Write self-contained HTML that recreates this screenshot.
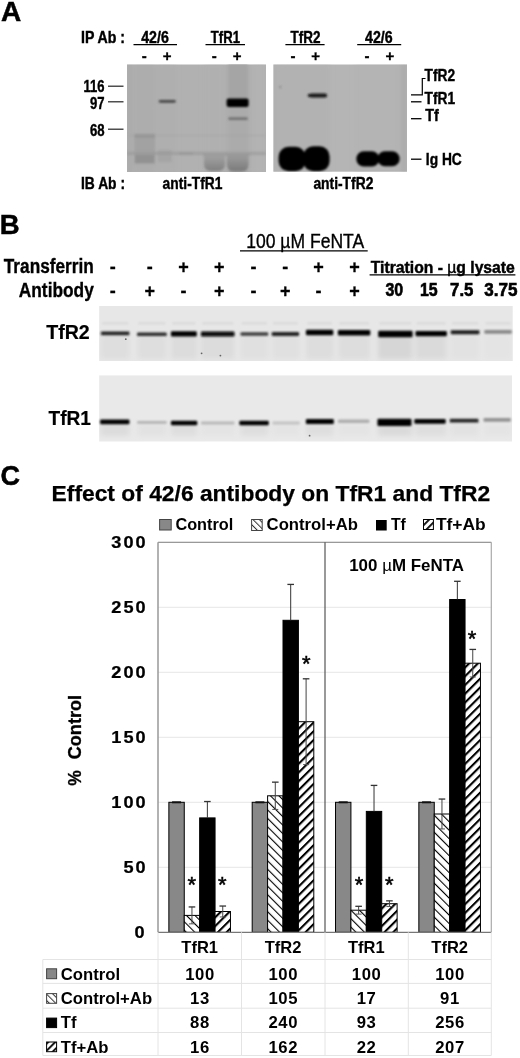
<!DOCTYPE html>
<html><head><meta charset="utf-8"><style>
html,body{margin:0;padding:0;background:#fff;}
body{width:520px;height:1058px;overflow:hidden;}
svg{display:block;font-family:"Liberation Sans", sans-serif;font-weight:bold;will-change:transform;}
</style></head><body>
<svg width="520" height="1058" viewBox="0 0 520 1058">
<rect width="520" height="1058" fill="#fff"/>
<defs>
<filter id="b05" x="-20%" y="-20%" width="140%" height="140%"><feGaussianBlur stdDeviation="0.5"/></filter>
<filter id="b1" x="-50%" y="-50%" width="200%" height="200%"><feGaussianBlur stdDeviation="1.1"/></filter>
<filter id="b2" x="-50%" y="-50%" width="200%" height="200%"><feGaussianBlur stdDeviation="2.5"/></filter>
<filter id="b4" x="-50%" y="-50%" width="200%" height="200%"><feGaussianBlur stdDeviation="4"/></filter>
<filter id="b3" x="-50%" y="-50%" width="200%" height="200%"><feGaussianBlur stdDeviation="0.9"/></filter>
<filter id="bv" x="-50%" y="-50%" width="200%" height="200%"><feGaussianBlur stdDeviation="1.5 4"/></filter>
<linearGradient id="gb1" x1="0" y1="0" x2="0" y2="1"><stop offset="0" stop-color="#a6a6a6"/><stop offset="1" stop-color="#808080"/></linearGradient>
<linearGradient id="gb2" x1="0" y1="0" x2="0" y2="1"><stop offset="0" stop-color="#a2a2a2"/><stop offset="1" stop-color="#7a7a7a"/></linearGradient>
<clipPath id="g1c"><rect x="127" y="64.5" width="139" height="107.5"/></clipPath>
<clipPath id="g2c"><rect x="273.4" y="64.5" width="133.6" height="107.2"/></clipPath>
<clipPath id="bl2"><rect x="99.2" y="306" width="413.5" height="55"/></clipPath>
<clipPath id="bl1"><rect x="99.2" y="375.4" width="412.8" height="66.1"/></clipPath>
<pattern id="hC" patternUnits="userSpaceOnUse" width="6" height="6" patternTransform="rotate(-45)"><rect width="6" height="6" fill="#fff"/><rect x="0" y="0" width="1.1" height="6" fill="#000"/></pattern>
<pattern id="hT" patternUnits="userSpaceOnUse" width="6.2" height="6.2" patternTransform="rotate(45)"><rect width="6.2" height="6.2" fill="#fff"/><rect x="0" y="0" width="2.1" height="6.2" fill="#000"/></pattern>
<pattern id="lC" patternUnits="userSpaceOnUse" width="4.5" height="4.5" patternTransform="rotate(-45)"><rect width="4.5" height="4.5" fill="#fff"/><rect x="0" y="0" width="1" height="4.5" fill="#333"/></pattern>
<pattern id="lT" patternUnits="userSpaceOnUse" width="5" height="5" patternTransform="rotate(45)"><rect width="5" height="5" fill="#fff"/><rect x="0" y="0" width="1.8" height="5" fill="#000"/></pattern>
</defs>
<text x="1" y="21" font-size="28" fill="#000" stroke="#000" stroke-width="0.5">A</text>
<text x="81" y="42.7" font-size="16.5" textLength="44" lengthAdjust="spacingAndGlyphs" fill="#000" stroke="#000" stroke-width="0.42">IP Ab :</text>
<text x="141.2" y="42.7" font-size="16.5" textLength="27.6" lengthAdjust="spacingAndGlyphs" fill="#000" stroke="#000" stroke-width="0.42">42/6</text>
<line x1="133.5" y1="44.6" x2="177" y2="44.6" stroke="#000" stroke-width="1.3"/>
<text x="210.8" y="42.7" font-size="16.5" textLength="29.2" lengthAdjust="spacingAndGlyphs" fill="#000" stroke="#000" stroke-width="0.42">TfR1</text>
<line x1="205.5" y1="44.6" x2="245" y2="44.6" stroke="#000" stroke-width="1.3"/>
<text x="290.4" y="42.7" font-size="16.5" textLength="30" lengthAdjust="spacingAndGlyphs" fill="#000" stroke="#000" stroke-width="0.42">TfR2</text>
<line x1="285.4" y1="44.6" x2="324.6" y2="44.6" stroke="#000" stroke-width="1.3"/>
<text x="365" y="42.7" font-size="16.5" textLength="27.6" lengthAdjust="spacingAndGlyphs" fill="#000" stroke="#000" stroke-width="0.42">42/6</text>
<line x1="357.2" y1="44.6" x2="401.2" y2="44.6" stroke="#000" stroke-width="1.3"/>
<text x="144.2" y="60.5" font-size="15" text-anchor="middle" fill="#000" stroke="#000" stroke-width="0.3">-</text>
<text x="167.1" y="60.5" font-size="15" text-anchor="middle" fill="#000" stroke="#000" stroke-width="0.3">+</text>
<text x="214.3" y="60.5" font-size="15" text-anchor="middle" fill="#000" stroke="#000" stroke-width="0.3">-</text>
<text x="237.2" y="60.5" font-size="15" text-anchor="middle" fill="#000" stroke="#000" stroke-width="0.3">+</text>
<text x="293" y="60.5" font-size="15" text-anchor="middle" fill="#000" stroke="#000" stroke-width="0.3">-</text>
<text x="315.7" y="60.5" font-size="15" text-anchor="middle" fill="#000" stroke="#000" stroke-width="0.3">+</text>
<text x="367" y="60.5" font-size="15" text-anchor="middle" fill="#000" stroke="#000" stroke-width="0.3">-</text>
<text x="389.8" y="60.5" font-size="15" text-anchor="middle" fill="#000" stroke="#000" stroke-width="0.3">+</text>
<text x="104.6" y="91.6" font-size="16.5" text-anchor="end" textLength="21" lengthAdjust="spacingAndGlyphs" fill="#000" stroke="#000" stroke-width="0.42">116</text>
<line x1="108" y1="86.2" x2="123.5" y2="86.2" stroke="#222" stroke-width="1.2"/>
<text x="104.6" y="109.3" font-size="16.5" text-anchor="end" textLength="14.6" lengthAdjust="spacingAndGlyphs" fill="#000" stroke="#000" stroke-width="0.42">97</text>
<line x1="108" y1="101.8" x2="123.5" y2="101.8" stroke="#222" stroke-width="1.2"/>
<text x="104.6" y="135.5" font-size="16.5" text-anchor="end" textLength="14.6" lengthAdjust="spacingAndGlyphs" fill="#000" stroke="#000" stroke-width="0.42">68</text>
<line x1="108" y1="129.2" x2="123.5" y2="129.2" stroke="#222" stroke-width="1.2"/>
<rect x="127.00" y="64.50" width="139.00" height="107.50" fill="#b1b1b1"/>
<g clip-path="url(#g1c)">
<g filter="url(#b2)">
<rect x="127.00" y="62.00" width="5.00" height="112.00" fill="#a5a5a5" opacity="0.7"/>
<rect x="134.00" y="62.00" width="21.00" height="112.00" fill="#aaaaaa" opacity="0.5"/>
<rect x="157.00" y="62.00" width="19.00" height="112.00" fill="#acacac" opacity="0.4"/>
<rect x="204.00" y="62.00" width="21.00" height="112.00" fill="#aeaeae" opacity="0.4"/>
<rect x="227.00" y="62.00" width="22.00" height="112.00" fill="#a6a6a6" opacity="0.6"/>
<rect x="252.00" y="62.00" width="14.00" height="112.00" fill="#b6b6b6" opacity="0.5"/>
</g>
<g filter="url(#b1)">
<rect x="134.50" y="134.00" width="20.50" height="30.00" fill="#9b9b9b" opacity="0.6"/>
<rect x="134.50" y="134.00" width="20.50" height="3.50" fill="#8c8c8c" opacity="0.7"/>
<rect x="228.50" y="64.00" width="19.00" height="34.00" fill="#a0a0a0" opacity="0.55"/>
<rect x="135.00" y="155.00" width="19.50" height="8.00" fill="#878787" opacity="0.6"/>
<rect x="158.00" y="150.00" width="13.50" height="12.00" fill="#9b9b9b" opacity="0.5"/>
<rect x="127.00" y="151.80" width="139.00" height="3.20" fill="#969696" opacity="0.6"/>
<rect x="179.00" y="152.00" width="14.00" height="3.00" fill="#969696" opacity="0.6"/>
<rect x="127.00" y="134.50" width="139.00" height="2.00" fill="#a5a5a5" opacity="0.4"/>
<path d="M204,154 H225 V164 Q225,171 218,171 H211 Q204,171 204,164 Z" fill="url(#gb1)"/>
<path d="M227,153 H248.5 V164 Q248.5,171.5 241.5,171.5 H234 Q227,171.5 227,164 Z" fill="url(#gb2)"/>
<rect x="203.00" y="153.50" width="47.00" height="2.60" fill="#969696" opacity="0.6"/>
</g>
<g filter="url(#b1)">
<rect x="158.8" y="99.9" width="17" height="2.8" rx="1.4" fill="#464646"/>
<rect x="226.6" y="98.6" width="22" height="8.3" rx="2" fill="#000"/>
<rect x="228.3" y="117.4" width="19.5" height="2.4" rx="1" fill="#696969"/>
</g>
</g>
<rect x="273.40" y="64.50" width="133.60" height="107.20" fill="#b5b5b5"/>
<g clip-path="url(#g2c)">
<g filter="url(#b2)">
<rect x="273.00" y="62.00" width="4.00" height="112.00" fill="#aaaaaa" opacity="0.6"/>
<rect x="278.00" y="62.00" width="26.00" height="112.00" fill="#b0b0b0" opacity="0.5"/>
<rect x="304.00" y="62.00" width="26.00" height="112.00" fill="#afafaf" opacity="0.5"/>
<rect x="355.00" y="62.00" width="23.00" height="112.00" fill="#b2b2b2" opacity="0.4"/>
<rect x="378.00" y="62.00" width="22.00" height="112.00" fill="#b2b2b2" opacity="0.4"/>
<rect x="401.00" y="62.00" width="7.00" height="112.00" fill="#a8a8a8" opacity="0.7"/>
</g>
<g filter="url(#b1)">
<path d="M307.5,95.5 Q308,93.6 312,93.6 H325 Q327.2,93.6 327.2,95.5 Q327.2,97.4 325,97.4 H312 Q308,97.4 307.5,95.5 Z" fill="#191919"/>
<circle cx="280.3" cy="87" r="0.8" fill="#5a5a5a"/>
<rect x="278.6" y="146.8" width="27" height="24.5" rx="10" fill="#000"/>
<rect x="303.2" y="146.2" width="26.4" height="25" rx="10" fill="#000"/>
<rect x="356.3" y="151.2" width="23" height="15.2" rx="7.5" fill="#000"/>
<rect x="377.4" y="151.2" width="22.3" height="15" rx="7.5" fill="#000"/>
</g>
</g>
<text x="424.6" y="80.9" font-size="16.5" textLength="30.5" lengthAdjust="spacingAndGlyphs" fill="#000" stroke="#000" stroke-width="0.42">TfR2</text>
<text x="424.6" y="104.1" font-size="16.5" textLength="30.5" lengthAdjust="spacingAndGlyphs" fill="#000" stroke="#000" stroke-width="0.42">TfR1</text>
<text x="425.2" y="121" font-size="16.5" textLength="13.6" lengthAdjust="spacingAndGlyphs" fill="#000" stroke="#000" stroke-width="0.42">Tf</text>
<text x="425.8" y="164.6" font-size="16.5" textLength="36" lengthAdjust="spacingAndGlyphs" fill="#000" stroke="#000" stroke-width="0.42">Ig HC</text>
<polyline points="425.5,78.5 422.3,78.5 422.3,94.8 411,94.8" fill="none" stroke="#000" stroke-width="1.2"/>
<line x1="411" y1="101.8" x2="421.5" y2="101.8" stroke="#000" stroke-width="1.3"/>
<line x1="411" y1="118.7" x2="421.5" y2="118.7" stroke="#000" stroke-width="1.3"/>
<line x1="411" y1="159.2" x2="421.5" y2="159.2" stroke="#000" stroke-width="1.3"/>
<text x="81" y="188.8" font-size="16.5" textLength="44" lengthAdjust="spacingAndGlyphs" fill="#000" stroke="#000" stroke-width="0.42">IB Ab :</text>
<text x="162.6" y="188.8" font-size="16.5" textLength="59.8" lengthAdjust="spacingAndGlyphs" fill="#000" stroke="#000" stroke-width="0.42">anti-TfR1</text>
<text x="313.4" y="189" font-size="16.5" textLength="60" lengthAdjust="spacingAndGlyphs" fill="#000" stroke="#000" stroke-width="0.42">anti-TfR2</text>
<text x="-0.2" y="233.7" font-size="27.5" fill="#000" stroke="#000" stroke-width="0.5">B</text>
<text x="246.2" y="248.4" font-size="20" font-weight="normal" textLength="118" lengthAdjust="spacingAndGlyphs" fill="#000" stroke="#000" stroke-width="0.35">100 µM FeNTA</text>
<line x1="240" y1="250.9" x2="367.7" y2="250.9" stroke="#000" stroke-width="1.3"/>
<text x="3.8" y="272.7" font-size="20" textLength="90" lengthAdjust="spacingAndGlyphs" fill="#000" stroke="#000" stroke-width="0.35">Transferrin</text>
<text x="18.8" y="297" font-size="20" textLength="75" lengthAdjust="spacingAndGlyphs" fill="#000" stroke="#000" stroke-width="0.35">Antibody</text>
<text x="112.8" y="272.5" font-size="18" text-anchor="middle" fill="#000" stroke="#000" stroke-width="0.3">-</text>
<text x="112.8" y="297" font-size="18" text-anchor="middle" fill="#000" stroke="#000" stroke-width="0.3">-</text>
<text x="149.7" y="272.5" font-size="18" text-anchor="middle" fill="#000" stroke="#000" stroke-width="0.3">-</text>
<text x="149.7" y="297" font-size="18" text-anchor="middle" fill="#000" stroke="#000" stroke-width="0.3">+</text>
<text x="183.5" y="272.5" font-size="18" text-anchor="middle" fill="#000" stroke="#000" stroke-width="0.3">+</text>
<text x="183.5" y="297" font-size="18" text-anchor="middle" fill="#000" stroke="#000" stroke-width="0.3">-</text>
<text x="219.3" y="272.5" font-size="18" text-anchor="middle" fill="#000" stroke="#000" stroke-width="0.3">+</text>
<text x="219.3" y="297" font-size="18" text-anchor="middle" fill="#000" stroke="#000" stroke-width="0.3">+</text>
<text x="253.6" y="272.5" font-size="18" text-anchor="middle" fill="#000" stroke="#000" stroke-width="0.3">-</text>
<text x="253.6" y="297" font-size="18" text-anchor="middle" fill="#000" stroke="#000" stroke-width="0.3">-</text>
<text x="285.2" y="272.5" font-size="18" text-anchor="middle" fill="#000" stroke="#000" stroke-width="0.3">-</text>
<text x="285.2" y="297" font-size="18" text-anchor="middle" fill="#000" stroke="#000" stroke-width="0.3">+</text>
<text x="318.4" y="272.5" font-size="18" text-anchor="middle" fill="#000" stroke="#000" stroke-width="0.3">+</text>
<text x="318.4" y="297" font-size="18" text-anchor="middle" fill="#000" stroke="#000" stroke-width="0.3">-</text>
<text x="354.5" y="272.5" font-size="18" text-anchor="middle" fill="#000" stroke="#000" stroke-width="0.3">+</text>
<text x="354.5" y="297" font-size="18" text-anchor="middle" fill="#000" stroke="#000" stroke-width="0.3">+</text>
<text x="370.8" y="272.5" font-size="16" textLength="144" lengthAdjust="spacingAndGlyphs" fill="#000" stroke="#000" stroke-width="0.45">Titration - <tspan font-weight="normal">µ</tspan>g lysate</text>
<line x1="369.6" y1="274.8" x2="515.4" y2="274.8" stroke="#000" stroke-width="1.3"/>
<text x="385.40000000000003" y="296.3" font-size="17.5" textLength="17.7" lengthAdjust="spacingAndGlyphs" fill="#000" stroke="#000" stroke-width="0.6">30</text>
<text x="420.0" y="296.3" font-size="17.5" textLength="17.7" lengthAdjust="spacingAndGlyphs" fill="#000" stroke="#000" stroke-width="0.6">15</text>
<text x="450.1" y="296.3" font-size="17.5" textLength="23.3" lengthAdjust="spacingAndGlyphs" fill="#000" stroke="#000" stroke-width="0.6">7.5</text>
<text x="484.20000000000005" y="296.3" font-size="17.5" textLength="33.2" lengthAdjust="spacingAndGlyphs" fill="#000" stroke="#000" stroke-width="0.6">3.75</text>
<text x="46.2" y="339.4" font-size="19.5" textLength="43.6" lengthAdjust="spacingAndGlyphs" fill="#000" stroke="#000" stroke-width="0.2">TfR2</text>
<text x="48.6" y="424.6" font-size="19.5" textLength="42.4" lengthAdjust="spacingAndGlyphs" fill="#000" stroke="#000" stroke-width="0.2">TfR1</text>
<rect x="99.20" y="306.00" width="413.50" height="55.00" fill="#e7e7e7"/>
<rect x="99.20" y="375.40" width="412.80" height="66.10" fill="#e9e9e9"/>
<g clip-path="url(#bl2)"><g filter="url(#b2)">
<rect x="100.50" y="335.00" width="29.00" height="24.00" fill="#dedede"/>
<rect x="137.50" y="335.00" width="29.00" height="24.00" fill="#dedede"/>
<rect x="171.00" y="335.00" width="26.00" height="24.00" fill="#dcdcdc"/>
<rect x="201.00" y="335.00" width="33.50" height="24.00" fill="#dcdcdc"/>
<rect x="240.50" y="335.00" width="27.80" height="24.00" fill="#e0e0e0"/>
<rect x="272.50" y="335.00" width="27.10" height="24.00" fill="#e0e0e0"/>
<rect x="306.00" y="335.00" width="27.50" height="24.00" fill="#dddddd"/>
<rect x="338.50" y="335.00" width="31.50" height="24.00" fill="#dddddd"/>
<rect x="378.00" y="335.00" width="34.00" height="24.00" fill="#d6d6d6"/>
<rect x="415.50" y="335.00" width="31.00" height="24.00" fill="#dadada"/>
<rect x="450.50" y="335.00" width="28.50" height="24.00" fill="#e2e2e2"/>
<rect x="484.50" y="335.00" width="26.50" height="24.00" fill="#e4e4e4"/>
</g></g>
<g clip-path="url(#bl1)"><g filter="url(#b2)">
<rect x="100.50" y="424.00" width="29.00" height="12.00" fill="#dcdcdc"/>
<rect x="137.50" y="424.00" width="29.00" height="12.00" fill="#e2e2e2"/>
<rect x="171.00" y="424.00" width="26.00" height="12.00" fill="#dedede"/>
<rect x="201.00" y="424.00" width="33.50" height="12.00" fill="#e4e4e4"/>
<rect x="240.50" y="424.00" width="27.80" height="12.00" fill="#dedede"/>
<rect x="272.50" y="424.00" width="27.10" height="12.00" fill="#e4e4e4"/>
<rect x="306.00" y="424.00" width="27.50" height="12.00" fill="#dedede"/>
<rect x="338.50" y="424.00" width="31.50" height="12.00" fill="#e4e4e4"/>
<rect x="378.00" y="424.00" width="34.00" height="12.00" fill="#dadada"/>
<rect x="415.50" y="424.00" width="31.00" height="12.00" fill="#dedede"/>
<rect x="450.50" y="424.00" width="28.50" height="12.00" fill="#e2e2e2"/>
<rect x="484.50" y="424.00" width="26.50" height="12.00" fill="#e4e4e4"/>
</g></g>
<g filter="url(#b3)">
<rect x="100.9" y="331.50" width="28.6" height="3.80" rx="1.2" fill="#222222"/>
<rect x="137.0" y="332.50" width="29.8" height="3.60" rx="1.2" fill="#2f2f2f"/>
<rect x="170.9" y="331.20" width="25.9" height="5.20" rx="1.2" fill="#000000"/>
<rect x="200.9" y="331.60" width="33.6" height="4.80" rx="1.2" fill="#0d0d0d"/>
<rect x="240.5" y="332.30" width="27.8" height="3.40" rx="1.2" fill="#3c3c3c"/>
<rect x="271.7" y="332.10" width="27.4" height="3.80" rx="1.2" fill="#222222"/>
<rect x="305.9" y="329.70" width="27.4" height="5.60" rx="1.2" fill="#000000"/>
<rect x="337.9" y="330.10" width="32.4" height="5.40" rx="1.2" fill="#000000"/>
<rect x="378.2" y="330.70" width="34.4" height="6.60" rx="1.2" fill="#000000"/>
<rect x="415.5" y="331.00" width="31.4" height="5.20" rx="1.2" fill="#000000"/>
<rect x="450.7" y="330.20" width="28.8" height="4.00" rx="1.2" fill="#1e1e1e"/>
<rect x="484.3" y="330.10" width="27.5" height="3.60" rx="1.2" fill="#888888"/>
<rect x="100.1" y="419.50" width="29.4" height="4.80" rx="1.2" fill="#000000"/>
<rect x="137.0" y="421.00" width="29.8" height="2.80" rx="1.2" fill="#b2b2b2"/>
<rect x="170.9" y="420.80" width="26.4" height="4.40" rx="1.2" fill="#000000"/>
<rect x="200.9" y="421.50" width="33.6" height="3.00" rx="1.2" fill="#b8b8b8"/>
<rect x="239.3" y="420.80" width="29.5" height="4.40" rx="1.2" fill="#000000"/>
<rect x="272.4" y="421.50" width="27.5" height="3.00" rx="1.2" fill="#c2c2c2"/>
<rect x="305.9" y="419.10" width="27.9" height="5.00" rx="1.2" fill="#000000"/>
<rect x="337.9" y="419.50" width="31.6" height="3.40" rx="1.2" fill="#adadad"/>
<rect x="377.4" y="418.80" width="34.1" height="7.20" rx="1.2" fill="#000000"/>
<rect x="414.3" y="419.00" width="31.4" height="4.80" rx="1.2" fill="#000000"/>
<rect x="449.7" y="418.80" width="28.8" height="3.80" rx="1.2" fill="#222222"/>
<rect x="483.5" y="418.10" width="27.3" height="3.60" rx="1.2" fill="#939393"/>
<rect x="102.2" y="322.3" width="26.0" height="2" fill="#d7d7d7"/>
<rect x="138.3" y="322.3" width="27.2" height="2" fill="#d7d7d7"/>
<rect x="172.2" y="322.3" width="23.3" height="2" fill="#d7d7d7"/>
<rect x="202.2" y="322.3" width="31.0" height="2" fill="#d7d7d7"/>
<rect x="241.8" y="322.3" width="25.2" height="2" fill="#d7d7d7"/>
<rect x="273.0" y="322.3" width="24.8" height="2" fill="#d7d7d7"/>
<rect x="307.2" y="322.3" width="24.8" height="2" fill="#d7d7d7"/>
<rect x="339.2" y="322.3" width="29.8" height="2" fill="#d7d7d7"/>
<rect x="379.5" y="322.3" width="31.8" height="2" fill="#d7d7d7"/>
<rect x="416.8" y="322.3" width="28.8" height="2" fill="#d7d7d7"/>
<rect x="452.0" y="322.3" width="26.2" height="2" fill="#d7d7d7"/>
<rect x="485.6" y="322.3" width="24.9" height="2" fill="#d7d7d7"/>
</g>
<circle cx="125.8" cy="339.2" r="0.9" fill="#646464"/>
<circle cx="309.6" cy="435.7" r="0.9" fill="#646464"/>
<circle cx="201.6" cy="353.3" r="0.9" fill="#646464"/>
<circle cx="220.4" cy="355.6" r="0.9" fill="#646464"/>
<text x="0.6" y="484.5" font-size="27" fill="#000" stroke="#000" stroke-width="0.5">C</text>
<text x="51.6" y="500.6" font-size="22" textLength="438.5" lengthAdjust="spacingAndGlyphs" fill="#000" stroke="#000" stroke-width="0.25">Effect of 42/6 antibody on TfR1 and TfR2</text>
<rect x="159.60" y="519.50" width="11.60" height="10.50" fill="#888" stroke="#444" stroke-width="1"/>
<text x="175.4" y="530.3" font-size="16.3" textLength="57.8" lengthAdjust="spacingAndGlyphs" fill="#000">Control</text>
<rect x="251.60" y="519.50" width="10.60" height="11.00" fill="url(#lC)" stroke="#444" stroke-width="1"/>
<text x="266.6" y="530.3" font-size="16.3" textLength="91.3" lengthAdjust="spacingAndGlyphs" fill="#000">Control+Ab</text>
<rect x="376.00" y="520.00" width="10.70" height="10.50" fill="#000"/>
<text x="390.9" y="530.3" font-size="16.3" textLength="15" lengthAdjust="spacingAndGlyphs" fill="#000">Tf</text>
<rect x="423.50" y="519.50" width="9.90" height="10.00" fill="url(#lT)" stroke="#000" stroke-width="1"/>
<text x="435.9" y="530.3" font-size="16.3" textLength="49.8" lengthAdjust="spacingAndGlyphs" fill="#000">Tf+Ab</text>
<line x1="158" y1="867.3" x2="491.3" y2="867.3" stroke="#ebebeb" stroke-width="1.2"/>
<line x1="158" y1="802.3" x2="491.3" y2="802.3" stroke="#ebebeb" stroke-width="1.2"/>
<line x1="158" y1="737.3" x2="491.3" y2="737.3" stroke="#ebebeb" stroke-width="1.2"/>
<line x1="158" y1="672.3" x2="491.3" y2="672.3" stroke="#ebebeb" stroke-width="1.2"/>
<line x1="158" y1="607.3" x2="491.3" y2="607.3" stroke="#ebebeb" stroke-width="1.2"/>
<line x1="158" y1="542.3" x2="491.3" y2="542.3" stroke="#ebebeb" stroke-width="1.2"/>
<text transform="translate(134.4,938.2) scale(1.1,1)" font-size="16.5" letter-spacing="1.83" stroke="#000" stroke-width="0.25">0</text>
<text transform="translate(123.4,873.2) scale(1.1,1)" font-size="16.5" letter-spacing="1.83" stroke="#000" stroke-width="0.25">50</text>
<text transform="translate(111.3,808.2) scale(1.1,1)" font-size="16.5" letter-spacing="1.83" stroke="#000" stroke-width="0.25">100</text>
<text transform="translate(111.3,743.2) scale(1.1,1)" font-size="16.5" letter-spacing="1.83" stroke="#000" stroke-width="0.25">150</text>
<text transform="translate(111.3,678.2) scale(1.1,1)" font-size="16.5" letter-spacing="1.83" stroke="#000" stroke-width="0.25">200</text>
<text transform="translate(111.3,613.2) scale(1.1,1)" font-size="16.5" letter-spacing="1.83" stroke="#000" stroke-width="0.25">250</text>
<text transform="translate(111.3,548.2) scale(1.1,1)" font-size="16.5" letter-spacing="1.83" stroke="#000" stroke-width="0.25">300</text>
<line x1="158" y1="542.3" x2="491.3" y2="542.3" stroke="#999" stroke-width="1.2"/>
<line x1="491.3" y1="542.3" x2="491.3" y2="932.3" stroke="#aaa" stroke-width="1.2"/>
<line x1="325" y1="542.3" x2="325" y2="932.3" stroke="#555" stroke-width="1.2"/>
<rect x="168.86" y="802.30" width="15.40" height="130.00" fill="#888" stroke="#000" stroke-width="1"/>
<rect x="184.26" y="915.40" width="15.40" height="16.90" fill="url(#hC)" stroke="#000" stroke-width="1"/>
<rect x="199.66" y="817.90" width="15.40" height="114.40" fill="#000" stroke="#000" stroke-width="1"/>
<rect x="215.06" y="911.50" width="15.40" height="20.80" fill="url(#hT)" stroke="#000" stroke-width="1"/>
<line x1="172.06499999999997" y1="802.3" x2="181.06499999999997" y2="802.3" stroke="#111" stroke-width="2"/>
<line x1="191.96499999999997" y1="906.9499999999999" x2="191.96499999999997" y2="923.8499999999999" stroke="#444" stroke-width="1"/>
<line x1="188.96499999999997" y1="923.8499999999999" x2="194.96499999999997" y2="923.8499999999999" stroke="#555" stroke-width="1"/>
<line x1="188.66499999999996" y1="906.9499999999999" x2="195.265" y2="906.9499999999999" stroke="#333" stroke-width="1.3"/>
<line x1="207.36499999999998" y1="801.52" x2="207.36499999999998" y2="817.9" stroke="#333" stroke-width="1"/>
<line x1="204.06499999999997" y1="801.52" x2="210.665" y2="801.52" stroke="#333" stroke-width="1.3"/>
<line x1="222.765" y1="906.04" x2="222.765" y2="916.9599999999999" stroke="#444" stroke-width="1"/>
<line x1="219.765" y1="916.9599999999999" x2="225.765" y2="916.9599999999999" stroke="#555" stroke-width="1"/>
<line x1="219.46499999999997" y1="906.04" x2="226.065" y2="906.04" stroke="#333" stroke-width="1.3"/>
<rect x="252.19" y="802.30" width="15.40" height="130.00" fill="#888" stroke="#000" stroke-width="1"/>
<rect x="267.59" y="795.80" width="15.40" height="136.50" fill="url(#hC)" stroke="#000" stroke-width="1"/>
<rect x="283.00" y="620.30" width="15.40" height="312.00" fill="#000" stroke="#000" stroke-width="1"/>
<rect x="298.39" y="721.70" width="15.40" height="210.60" fill="url(#hT)" stroke="#000" stroke-width="1"/>
<line x1="255.39499999999998" y1="802.3" x2="264.395" y2="802.3" stroke="#111" stroke-width="2"/>
<line x1="275.29499999999996" y1="782.15" x2="275.29499999999996" y2="809.4499999999999" stroke="#444" stroke-width="1"/>
<line x1="272.29499999999996" y1="809.4499999999999" x2="278.29499999999996" y2="809.4499999999999" stroke="#555" stroke-width="1"/>
<line x1="271.99499999999995" y1="782.15" x2="278.59499999999997" y2="782.15" stroke="#333" stroke-width="1.3"/>
<line x1="290.695" y1="584.4199999999998" x2="290.695" y2="620.3" stroke="#333" stroke-width="1"/>
<line x1="287.395" y1="584.4199999999998" x2="293.995" y2="584.4199999999998" stroke="#333" stroke-width="1.3"/>
<line x1="306.09499999999997" y1="678.8" x2="306.09499999999997" y2="764.5999999999999" stroke="#444" stroke-width="1"/>
<line x1="303.09499999999997" y1="764.5999999999999" x2="309.09499999999997" y2="764.5999999999999" stroke="#555" stroke-width="1"/>
<line x1="302.79499999999996" y1="678.8" x2="309.395" y2="678.8" stroke="#333" stroke-width="1.3"/>
<rect x="335.52" y="802.30" width="15.40" height="130.00" fill="#888" stroke="#000" stroke-width="1"/>
<rect x="350.92" y="910.20" width="15.40" height="22.10" fill="url(#hC)" stroke="#000" stroke-width="1"/>
<rect x="366.32" y="811.40" width="15.40" height="120.90" fill="#000" stroke="#000" stroke-width="1"/>
<rect x="381.72" y="903.70" width="15.40" height="28.60" fill="url(#hT)" stroke="#000" stroke-width="1"/>
<line x1="338.72499999999997" y1="802.3" x2="347.72499999999997" y2="802.3" stroke="#111" stroke-width="2"/>
<line x1="358.62499999999994" y1="906.3" x2="358.62499999999994" y2="914.0999999999999" stroke="#444" stroke-width="1"/>
<line x1="355.62499999999994" y1="914.0999999999999" x2="361.62499999999994" y2="914.0999999999999" stroke="#555" stroke-width="1"/>
<line x1="355.32499999999993" y1="906.3" x2="361.92499999999995" y2="906.3" stroke="#333" stroke-width="1.3"/>
<line x1="374.025" y1="785.4" x2="374.025" y2="811.4" stroke="#333" stroke-width="1"/>
<line x1="370.72499999999997" y1="785.4" x2="377.325" y2="785.4" stroke="#333" stroke-width="1.3"/>
<line x1="389.42499999999995" y1="900.8399999999999" x2="389.42499999999995" y2="906.56" stroke="#444" stroke-width="1"/>
<line x1="386.42499999999995" y1="906.56" x2="392.42499999999995" y2="906.56" stroke="#555" stroke-width="1"/>
<line x1="386.12499999999994" y1="900.8399999999999" x2="392.72499999999997" y2="900.8399999999999" stroke="#333" stroke-width="1.3"/>
<rect x="418.85" y="802.30" width="15.40" height="130.00" fill="#888" stroke="#000" stroke-width="1"/>
<rect x="434.25" y="814.00" width="15.40" height="118.30" fill="url(#hC)" stroke="#000" stroke-width="1"/>
<rect x="449.65" y="599.50" width="15.40" height="332.80" fill="#000" stroke="#000" stroke-width="1"/>
<rect x="465.05" y="663.20" width="15.40" height="269.10" fill="url(#hT)" stroke="#000" stroke-width="1"/>
<line x1="422.05499999999995" y1="802.3" x2="431.05499999999995" y2="802.3" stroke="#111" stroke-width="2"/>
<line x1="441.9549999999999" y1="799.05" x2="441.9549999999999" y2="828.9499999999999" stroke="#444" stroke-width="1"/>
<line x1="438.9549999999999" y1="828.9499999999999" x2="444.9549999999999" y2="828.9499999999999" stroke="#555" stroke-width="1"/>
<line x1="438.6549999999999" y1="799.05" x2="445.25499999999994" y2="799.05" stroke="#333" stroke-width="1.3"/>
<line x1="457.35499999999996" y1="581.3" x2="457.35499999999996" y2="599.5" stroke="#333" stroke-width="1"/>
<line x1="454.05499999999995" y1="581.3" x2="460.655" y2="581.3" stroke="#333" stroke-width="1.3"/>
<line x1="472.75499999999994" y1="649.42" x2="472.75499999999994" y2="676.9799999999999" stroke="#444" stroke-width="1"/>
<line x1="469.75499999999994" y1="676.9799999999999" x2="475.75499999999994" y2="676.9799999999999" stroke="#555" stroke-width="1"/>
<line x1="469.4549999999999" y1="649.42" x2="476.05499999999995" y2="649.42" stroke="#333" stroke-width="1.3"/>
<line x1="158" y1="542.3" x2="158" y2="932.3" stroke="#999" stroke-width="1.5"/>
<line x1="158" y1="932.3" x2="491.3" y2="932.3" stroke="#777" stroke-width="1.2"/>
<text x="191.8" y="891.8" font-size="22" font-weight="normal" text-anchor="middle" fill="#000" stroke="#000" stroke-width="0.5">*</text>
<text x="222.3" y="891.8" font-size="22" font-weight="normal" text-anchor="middle" fill="#000" stroke="#000" stroke-width="0.5">*</text>
<text x="306.3" y="671.0" font-size="22" font-weight="normal" text-anchor="middle" fill="#000" stroke="#000" stroke-width="0.5">*</text>
<text x="359" y="891.8" font-size="22" font-weight="normal" text-anchor="middle" fill="#000" stroke="#000" stroke-width="0.5">*</text>
<text x="389.2" y="891.8" font-size="22" font-weight="normal" text-anchor="middle" fill="#000" stroke="#000" stroke-width="0.5">*</text>
<text x="472.1" y="646.3" font-size="22" font-weight="normal" text-anchor="middle" fill="#000" stroke="#000" stroke-width="0.5">*</text>
<text x="349.2" y="570.9" font-size="16.5" textLength="114.8" lengthAdjust="spacingAndGlyphs" fill="#000">100 <tspan font-weight="normal">µ</tspan>M FeNTA</text>
<text transform="translate(80.5,759.2) rotate(-90)" font-size="17.5" textLength="64.2" lengthAdjust="spacingAndGlyphs" stroke="#000" stroke-width="0.3">Control</text>
<text transform="translate(80.5,785.8) rotate(-90)" font-size="17.5" stroke="#000" stroke-width="0.3">%</text>
<line x1="158" y1="932.3" x2="158" y2="1055.5" stroke="#e4e4e4" stroke-width="1"/>
<line x1="241.5" y1="932.3" x2="241.5" y2="1055.5" stroke="#e4e4e4" stroke-width="1"/>
<line x1="325" y1="932.3" x2="325" y2="1055.5" stroke="#e4e4e4" stroke-width="1"/>
<line x1="408.3" y1="932.3" x2="408.3" y2="1055.5" stroke="#e4e4e4" stroke-width="1"/>
<line x1="491.3" y1="932.3" x2="491.3" y2="1055.5" stroke="#e4e4e4" stroke-width="1"/>
<line x1="42.8" y1="959.5" x2="42.8" y2="1055.5" stroke="#e4e4e4" stroke-width="1"/>
<line x1="42.8" y1="959.5" x2="491.3" y2="959.5" stroke="#e4e4e4" stroke-width="1"/>
<line x1="42.8" y1="983.4" x2="491.3" y2="983.4" stroke="#e4e4e4" stroke-width="1"/>
<line x1="42.8" y1="1008.2" x2="491.3" y2="1008.2" stroke="#e4e4e4" stroke-width="1"/>
<line x1="42.8" y1="1032.5" x2="491.3" y2="1032.5" stroke="#e4e4e4" stroke-width="1"/>
<line x1="42.8" y1="1055.5" x2="491.3" y2="1055.5" stroke="#e4e4e4" stroke-width="1"/>
<text x="199.665" y="952.7" font-size="16.5" text-anchor="middle" fill="#000">TfR1</text>
<text x="282.995" y="952.7" font-size="16.5" text-anchor="middle" fill="#000">TfR2</text>
<text x="366.325" y="952.7" font-size="16.5" text-anchor="middle" fill="#000">TfR1</text>
<text x="449.655" y="952.7" font-size="16.5" text-anchor="middle" fill="#000">TfR2</text>
<rect x="46.60" y="968.80" width="10.00" height="9.90" fill="#888" stroke="#444" stroke-width="1"/>
<text x="60.8" y="979.6" font-size="16.7" fill="#000">Control</text>
<text x="199.965" y="979.6" font-size="16.7" text-anchor="middle" fill="#000" letter-spacing="0.6">100</text>
<text x="283.295" y="979.6" font-size="16.7" text-anchor="middle" fill="#000" letter-spacing="0.6">100</text>
<text x="366.625" y="979.6" font-size="16.7" text-anchor="middle" fill="#000" letter-spacing="0.6">100</text>
<text x="449.955" y="979.6" font-size="16.7" text-anchor="middle" fill="#000" letter-spacing="0.6">100</text>
<rect x="46.60" y="993.60" width="10.00" height="9.70" fill="url(#lC)" stroke="#444" stroke-width="1"/>
<text x="60.8" y="1003.8" font-size="16.7" fill="#000">Control+Ab</text>
<text x="199.965" y="1003.8" font-size="16.7" text-anchor="middle" fill="#000" letter-spacing="0.6">13</text>
<text x="283.295" y="1003.8" font-size="16.7" text-anchor="middle" fill="#000" letter-spacing="0.6">105</text>
<text x="366.625" y="1003.8" font-size="16.7" text-anchor="middle" fill="#000" letter-spacing="0.6">17</text>
<text x="449.955" y="1003.8" font-size="16.7" text-anchor="middle" fill="#000" letter-spacing="0.6">91</text>
<rect x="46.60" y="1018.10" width="10.00" height="9.50" fill="#000" stroke="#000" stroke-width="1"/>
<text x="60.8" y="1028.1" font-size="16.7" fill="#000">Tf</text>
<text x="199.965" y="1028.1" font-size="16.7" text-anchor="middle" fill="#000" letter-spacing="0.6">88</text>
<text x="283.295" y="1028.1" font-size="16.7" text-anchor="middle" fill="#000" letter-spacing="0.6">240</text>
<text x="366.625" y="1028.1" font-size="16.7" text-anchor="middle" fill="#000" letter-spacing="0.6">93</text>
<text x="449.955" y="1028.1" font-size="16.7" text-anchor="middle" fill="#000" letter-spacing="0.6">256</text>
<rect x="46.60" y="1042.00" width="10.00" height="9.70" fill="url(#lT)" stroke="#000" stroke-width="1"/>
<text x="60.8" y="1052.6" font-size="16.7" fill="#000">Tf+Ab</text>
<text x="199.965" y="1052.6" font-size="16.7" text-anchor="middle" fill="#000" letter-spacing="0.6">16</text>
<text x="283.295" y="1052.6" font-size="16.7" text-anchor="middle" fill="#000" letter-spacing="0.6">162</text>
<text x="366.625" y="1052.6" font-size="16.7" text-anchor="middle" fill="#000" letter-spacing="0.6">22</text>
<text x="449.955" y="1052.6" font-size="16.7" text-anchor="middle" fill="#000" letter-spacing="0.6">207</text>
</svg>
</body></html>
